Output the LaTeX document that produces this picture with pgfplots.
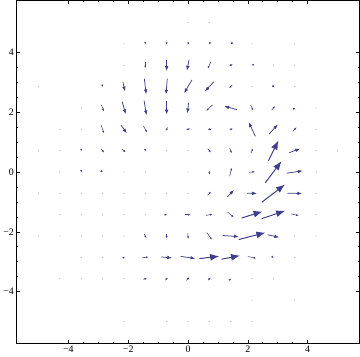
\documentclass[border=0pt]{standalone}
\usepackage{pgfplots}
\pgfplotsset{compat=1.18}
\usepackage{pgfplotstable}
\usetikzlibrary{arrows.meta}
\usepackage{fontspec}
\setmainfont{Liberation Serif}
\definecolor{arr}{RGB}{62,62,140}

\pgfplotstableread{
x y u v
2.857 0.714 0.33 0.67
2.857 0 0.54 0.72
2.857 -0.714 0.77 0.59
2.143 -1.429 0.70 0.22
2.857 -1.429 0.78 0.26
2.143 -2.143 0.89 0.23
0.714 -2.857 0.66 0.08
1.429 -2.857 0.62 0.12
}\tabLarge

\pgfplotstableread{
x y u v
-0.714 3.571 0 -0.38
0 3.571 -0.07 -0.36
-2.143 2.857 0.07 -0.32
-1.429 2.857 0.06 -0.51
-0.714 2.857 -0.04 -0.53
0 2.857 -0.26 -0.44
0.714 2.857 -0.30 -0.32
-2.143 2.143 0.12 -0.42
-1.429 2.143 0.08 -0.49
-0.714 2.143 0 -0.44
0 2.143 -0.04 -0.36
1.429 2.143 -0.43 0.12
2.143 1.429 -0.22 0.47
2.857 1.429 0.29 0.32
-2.143 1.429 0.19 -0.27
3.571 0.714 0.36 0.13
3.571 0 0.53 0.08
2.143 -0.714 0.33 -0.01
1.429 -0.714 0.22 0.23
3.571 -0.714 0.49 -0.01
1.429 -2.143 0.54 -0.04
2.857 -2.143 0.39 -0.09
-0.714 -2.857 0.36 -0.03
0 -2.857 0.49 -0.07
}\tabMed

\pgfplotstableread{
x y u v
-1.429 4.286 0 -0.04
-0.714 4.286 0 -0.08
0 4.286 -0.02 -0.08
0.714 4.286 -0.03 -0.05
1.429 4.286 -0.03 -0.02
-1.429 3.571 0 -0.20
0.714 3.571 -0.11 -0.24
1.429 3.571 -0.11 -0.07
2.143 3.571 -0.05 -0.02
1.429 2.857 -0.11 -0.11
2.857 2.857 0.06 -0.07
-2.857 2.857 0.01 -0.04
-2.857 2.143 0.09 -0.22
0.714 2.143 -0.21 -0.20
2.143 2.143 0.09 -0.18
2.857 2.143 0.11 0.13
3.571 2.143 0.03 0.03
-2.857 1.429 0.10 -0.27
-1.429 1.429 0.12 -0.22
-0.714 1.429 -0.06 -0.12
0 1.429 -0.13 -0.04
0.714 1.429 -0.13 0
1.429 1.429 -0.11 -0.02
3.571 1.429 0.13 0.14
-3.571 0.714 0 -0.05
-2.857 0.714 0.10 -0.13
-2.143 0.714 0.12 -0.11
-1.429 0.714 0.01 -0.06
0.714 0.714 0.11 -0.13
1.429 0.714 0.07 -0.18
2.143 0.714 0.07 0.16
-3.571 0 0 -0.05
-2.857 0 0.03 -0.02
0.714 0 0 0.10
1.429 0 0.07 0.28
2.143 0 0.20 0.02
0.714 -0.714 0.12 0.12
-0.714 -1.429 0.04 0
0 -1.429 0.18 0
0.714 -1.429 0.22 0.04
1.429 -1.429 0.20 -0.17
3.571 -1.429 0.26 -0.06
-1.429 -2.143 0.08 -0.14
-0.714 -2.143 0 -0.17
0 -2.143 0.01 -0.20
0.714 -2.143 0.17 -0.24
-2.143 -2.857 0.09 0.03
-1.429 -2.857 0.22 0.03
2.143 -2.857 0.28 -0.06
2.857 -2.857 0.04 -0.02
-1.429 -3.571 0.12 0.04
-0.714 -3.571 0.09 0.09
0 -3.571 0.10 0.11
0.714 -3.571 0.09 0.10
1.429 -3.571 0.03 0.03
}\tabSmall

\pgfplotstableread{
x y
0 5
0.714 5
-2.143 4.286
2.143 4.286
3.571 4.286
-2.143 3.571
2.857 3.571
3.571 3.571
-5 2.857
2.143 2.857
3.571 2.857
-3.571 2.143
4.286 2.143
-4.286 1.429
-3.571 1.429
4.286 1.429
-5 0.714
-4.286 0.714
-0.714 0.714
0 0.714
4.286 0.714
5 0.714
-4.286 0
-2.143 0
-1.429 0
0 0
4.286 0
-5 -0.714
-4.286 -0.714
-3.571 -0.714
-2.857 -0.714
-2.143 -0.714
-1.429 -0.714
-0.714 -0.714
0 -0.714
4.286 -0.714
-4.286 -1.429
-3.571 -1.429
-2.857 -1.429
-2.143 -1.429
-1.429 -1.429
4.286 -1.429
-5 -2.143
-4.286 -2.143
-3.571 -2.143
-2.857 -2.143
-2.143 -2.143
3.571 -2.143
4.286 -2.143
-3.571 -2.857
-2.857 -2.857
3.571 -2.857
-4.286 -3.571
-3.571 -3.571
-2.857 -3.571
-2.143 -3.571
2.143 -3.571
2.857 -3.571
2.143 -4.286
3.571 -4.286
-2.143 -5
-0.714 -5
0 -5
0.714 -5
1.429 -5
2.143 -5
}\tabDots

\begin{document}
\begin{tikzpicture}
\begin{axis}[
  width=344.4bp, height=344.4bp, scale only axis,
  xmin=-5.74, xmax=5.74, ymin=-5.74, ymax=5.74,
  xtick={-4,-2,0,2,4}, xticklabels={−4,−2,0,2,4},
  ytick={-4,-2,0,2,4}, yticklabels={−4,−2,0,2,4},
  minor tick num=3,
  tick align=inside,
  major tick length=4bp, minor tick length=2bp,
  tick style={black, line width=0.5bp},
  axis line style={black, line width=0.8bp},
  tick label style={font=\fontsize{10}{12}\selectfont},
  xticklabel style={yshift=1bp},
  yticklabel style={xshift=1bp},
]
\addplot[only marks, mark=*, mark size=0.35bp, gray!55, draw=none] table {\tabDots};
\addplot[arr, line width=0.55bp, -{Latex[length=2.6bp,width=2bp]},
  quiver={u=\thisrow{u}, v=\thisrow{v}}]
  table[x expr=\thisrow{x}-0.5*\thisrow{u}, y expr=\thisrow{y}-0.5*\thisrow{v}] {\tabSmall};
\addplot[arr, line width=0.75bp, -{Latex[length=4.8bp,width=3.6bp]},
  quiver={u=\thisrow{u}, v=\thisrow{v}}]
  table[x expr=\thisrow{x}-0.5*\thisrow{u}, y expr=\thisrow{y}-0.5*\thisrow{v}] {\tabMed};
\addplot[arr, line width=1bp, -{Latex[length=9bp,width=7bp]},
  quiver={u=\thisrow{u}, v=\thisrow{v}}]
  table[x expr=\thisrow{x}-0.5*\thisrow{u}, y expr=\thisrow{y}-0.5*\thisrow{v}] {\tabLarge};
\end{axis}
\end{tikzpicture}
\end{document}
